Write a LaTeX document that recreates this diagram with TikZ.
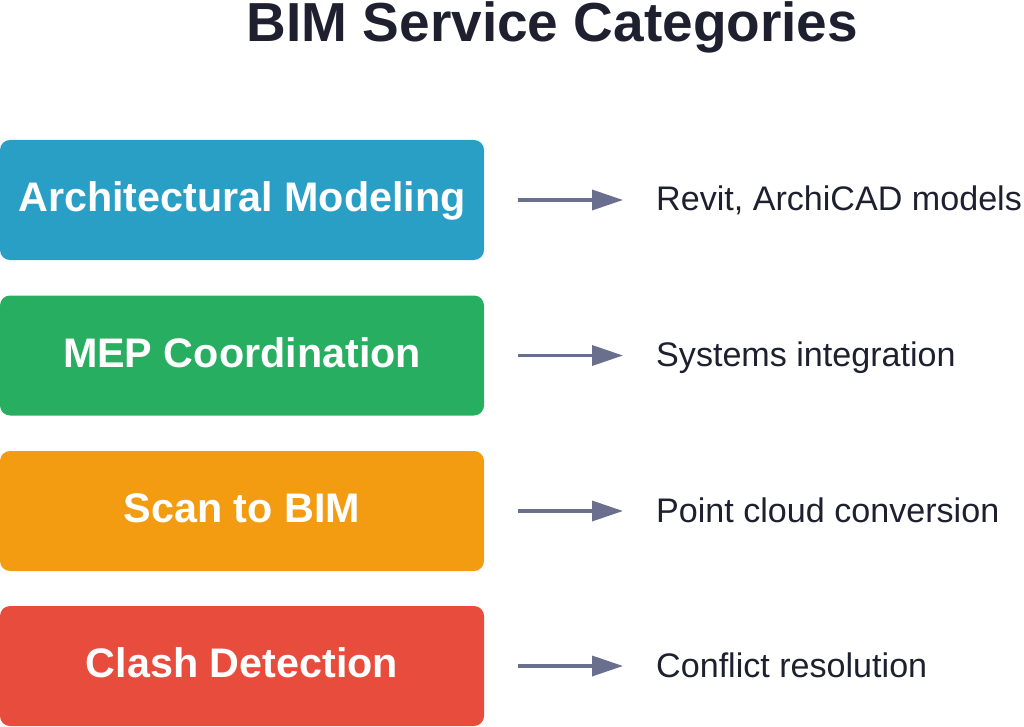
\documentclass[tikz,border=0pt]{standalone}
\usepackage{fontspec}
\setmainfont{Liberation Sans}
\usetikzlibrary{arrows.meta}
\definecolor{archblue}{HTML}{2A9FC6}
\definecolor{mepgreen}{HTML}{27AE60}
\definecolor{scanorange}{HTML}{F39C12}
\definecolor{clashred}{HTML}{E74C3C}
\definecolor{arrowgray}{HTML}{6B6F8E}
\definecolor{textdark}{HTML}{1E2030}
\tikzset{
  catbox/.style={rounded corners=10pt, minimum width=484pt, minimum height=120pt,
    inner sep=0pt, text=white, font=\bfseries\fontsize{41.3}{41.3}\selectfont,
    text height=29pt, text depth=6pt},
  desclabel/.style={anchor=base west, inner sep=0pt, text=textdark,
    font=\fontsize{34.1}{34.1}\selectfont},
  linkarrow/.style={draw=arrowgray, line width=3.5pt,
    -{Triangle[length=31pt,width=20pt]}, shorten <=34pt, shorten >=33pt}
}
\begin{document}
\begin{tikzpicture}[x=1pt,y=-1pt]
\useasboundingbox (0,0) rectangle (1024,727);
\node[text=textdark, font=\bfseries\fontsize{55}{55}\selectfont, inner sep=0pt,
  text height=38pt, text depth=0pt] (title) at (552.5,23) {BIM Service Categories};

\node[catbox, fill=archblue] (b1) at (242,200) {Architectural Modeling};
\node[catbox, fill=mepgreen] (b2) at (242,355.5) {MEP Coordination};
\node[catbox, fill=scanorange] (b3) at (242,511) {Scan to BIM};
\node[catbox, fill=clashred] (b4) at (242,666) {Clash Detection};

\node[desclabel] (l1) at (656,211) {Revit, ArchiCAD models};
\node[desclabel] (l2) at (656,366.5) {Systems integration};
\node[desclabel] (l3) at (656,522) {Point cloud conversion};
\node[desclabel] (l4) at (656,677) {Conflict resolution};

\draw[linkarrow] (b1.east) -- (b1.east -| l1.west);
\draw[linkarrow] (b2.east) -- (b2.east -| l2.west);
\draw[linkarrow] (b3.east) -- (b3.east -| l3.west);
\draw[linkarrow] (b4.east) -- (b4.east -| l4.west);
\end{tikzpicture}
\end{document}
